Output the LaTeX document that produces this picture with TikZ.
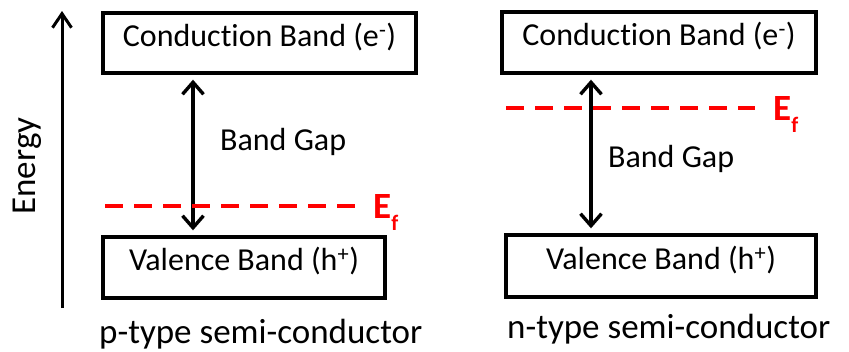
\documentclass[tikz,border=0pt]{standalone}
\usepackage{fontspec}
\setmainfont{Carlito}[Ligatures=NoCommon]
\usetikzlibrary{arrows.meta}
\begin{document}
\begin{tikzpicture}[x=1pt,y=-1pt,
  band/.style={draw,line width=3.4pt,inner sep=0pt,
    font=\fontsize{32}{38}\selectfont,text height=0.8em,text depth=0.18em},
  gaparrow/.style={line width=3.4pt,
    {Straight Barb[length=12pt,width=21pt]}-{Straight Barb[length=12pt,width=21pt]},
    shorten <=5pt,shorten >=5pt},
  fermi/.style={red,line width=3.4pt,dash pattern=on 18pt off 11pt},
  eflabel/.style={red,font=\fontsize{37}{40}\selectfont\bfseries,anchor=base west,inner sep=0pt},
  lbl/.style={font=\fontsize{32}{38}\selectfont,anchor=base west,inner sep=0pt},
  caption/.style={font=\fontsize{35}{40}\selectfont,anchor=base west,inner sep=0pt}]
\useasboundingbox (0,0) rectangle (849,351);

% Energy axis
\coordinate (eb) at (62,308);
\coordinate (et) at (62,11);
\draw[line width=3pt,-{Straight Barb[length=14pt,width=19pt]}] (eb) -- (et);
\node[font=\fontsize{35}{40}\selectfont,rotate=90,inner sep=0pt] (energy) at (27,166) {Energy};

% p-type
\node[band,minimum width=313pt,minimum height=60pt] (cbL) at (259.5,43) {Conduction Band (e\textsuperscript{-})};
\node[band,minimum width=282pt,minimum height=61pt] (vbL) at (244,267.5) {Valence Band (h\textsuperscript{+})};
\coordinate (aL) at (193,0);
\draw[gaparrow] (cbL.south -| aL) -- (vbL.north -| aL);
\node[lbl] (bgL) at (220,150) {Band Gap};
\coordinate (fLs) at (105,206);
\coordinate (fLe) at (355,206);
\draw[fermi] (fLs) -- (fLe);
\node[eflabel] (efL) at (373,218) {E\raisebox{-12pt}{\fontsize{22}{22}\selectfont f}};
\node[caption] (capL) at (99,343) {p-type semi-conductor};

% n-type
\node[band,minimum width=314pt,minimum height=61pt] (cbR) at (659,42.5) {Conduction Band (e\textsuperscript{-})};
\node[band,minimum width=310pt,minimum height=62pt] (vbR) at (661,266) {Valence Band (h\textsuperscript{+})};
\coordinate (aR) at (591,0);
\draw[gaparrow] (cbR.south -| aR) -- (vbR.north -| aR);
\node[lbl] (bgR) at (608,167) {Band Gap};
\coordinate (fRs) at (506,108);
\coordinate (fRe) at (755,108);
\draw[fermi] (fRs) -- (fRe);
\node[eflabel] (efR) at (773,120) {E\raisebox{-12pt}{\fontsize{22}{22}\selectfont f}};
\node[caption] (capR) at (507,338) {n-type semi-conductor};
\end{tikzpicture}
\end{document}
